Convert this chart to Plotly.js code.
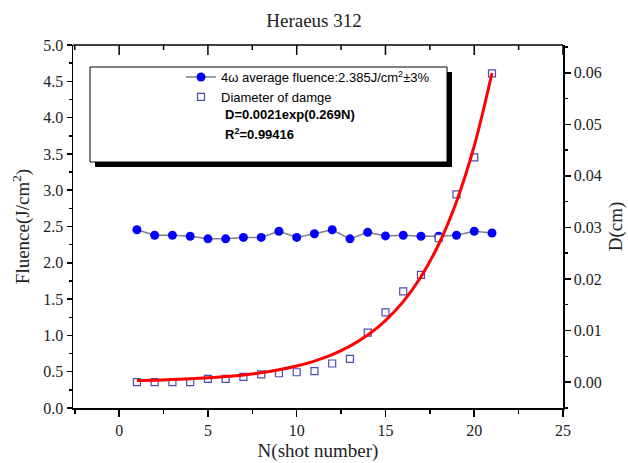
<!DOCTYPE html>
<html><head><meta charset="utf-8">
<script src="https://cdn.plot.ly/plotly-3.0.1.min.js"></script>
<style>html,body{margin:0;padding:0;background:#fff}#chart{width:628px;height:463px}</style>
</head><body><div id="chart"></div>
<script>
// ---- data ----
const shots = [1,2,3,4,5,6,7,8,9,10,11,12,13,14,15,16,17,18,19,20,21];
const fluence = [2.455,2.38,2.38,2.365,2.33,2.33,2.35,2.35,2.435,2.35,2.40,2.455,2.33,2.42,2.37,2.38,2.365,2.365,2.38,2.435,2.41];
const diameter = [0.0000,0.0000,0.0000,0.0000,0.0006,0.0006,0.0010,0.0015,0.0017,0.0019,0.0021,0.0036,0.0045,0.0096,0.0135,0.0176,0.0208,0.0279,0.0364,0.0436,0.0599];
const fitCurve = [0.00028,0.00036,0.00047,0.00062,0.00081,0.00106,0.00138,0.00181,0.00237,0.00310,0.00406,0.00532,0.00696,0.00911,0.01192,0.01560,0.02043,0.02674,0.03500,0.04581,0.05997];
const topTicks = [-2.5,0,2.5,5,7.5,10,12.5,15,17.5,20,22.5,25];
const fluenceLabel = '4ω average fluence:2.385J/cm<sup>2</sup>±3%';
const diameterLabel = 'Diameter of damge';
const fitLabel = 'D=0.0021exp(0.269N)';
const r2Label = 'R<sup>2</sup>=0.99416';
const titleText = 'Heraeus 312';
const xTitle = 'N(shot number)';
const yTitle = 'Fluence(J/cm<sup>2</sup>)';
const y2Title = 'D(cm)';

// ---- layout helpers ----
const W = 628, H = 463, M = {l:73, r:65, t:45, b:55};
const PW = W - M.l - M.r, PH = H - M.t - M.b;
const px = x => (x - M.l) / PW;
const py = y => (H - M.b - y) / PH;
const serif = 'Liberation Serif, Times New Roman, serif';
const sans = 'Liberation Sans, Arial, sans-serif';
const xRange = [-2.6, 25];
const yRange = [0, 5];

const traces = [
  {x: shots, y: fluence, name: fluenceLabel, type: 'scatter', mode: 'lines+markers',
   line: {color: '#808080', width: 1.5}, marker: {color: '#0000ff', size: 9, symbol: 'circle'},
   xaxis: 'x', yaxis: 'y'},
  {x: shots, y: diameter, name: diameterLabel, type: 'scatter', mode: 'markers',
   marker: {symbol: 'square', size: 7, color: 'rgba(255,255,255,1)', line: {color: '#4b4bb0', width: 1.2}},
   xaxis: 'x', yaxis: 'y2'},
  {x: shots, y: fitCurve, name: 'fit', type: 'scatter', mode: 'lines', showlegend: false,
   line: {color: '#ff0000', width: 3, shape: 'spline'}, xaxis: 'x', yaxis: 'y2'},
  // top frame ticks pointing inward, drawn through the x / y scales
  {x: topTicks.flatMap(v => [v, v, null]),
   y: topTicks.flatMap((v, i) => [yRange[1], yRange[1] - (i % 2 === 1 ? 10 : 5) * (yRange[1] - yRange[0]) / PH, null]),
   type: 'scatter', mode: 'lines', showlegend: false, hoverinfo: 'skip', connectgaps: false,
   line: {color: '#000', width: 1.5}, cliponaxis: false, xaxis: 'x', yaxis: 'y'}
];

const axBase = {showline: true, linecolor: '#000', linewidth: 1.5, showgrid: false, zeroline: false,
  tickcolor: '#000', tickwidth: 1.5, mirror: false, tickmode: 'linear'};

const shapes = [
  {type: 'line', xref: 'paper', yref: 'paper', x0: 0, x1: 1, y0: 1, y1: 1, line: {color: '#000', width: 1.5}, layer: 'above'},
  {type: 'rect', xref: 'paper', yref: 'paper', x0: px(95), x1: px(452), y0: py(72), y1: py(167),
   fillcolor: '#000', line: {width: 0}, layer: 'above'},
  {type: 'rect', xref: 'paper', yref: 'paper', x0: px(90), x1: px(447), y0: py(67), y1: py(162),
   fillcolor: '#fff', line: {color: '#000', width: 1}, layer: 'above'}
];

const layout = {
  width: W, height: H, margin: M, paper_bgcolor: '#fff', plot_bgcolor: '#fff',
  title: {text: titleText, font: {family: serif, size: 19, color: '#222'}, x: 0.5, xanchor: 'center', y: 0.955, yanchor: 'middle'},
  xaxis: Object.assign({}, axBase, {range: xRange, tick0: 0, dtick: 5, ticks: 'outside', ticklen: 7,
    minor: {tick0: 0, dtick: 2.5, ticks: 'outside', ticklen: 4, tickwidth: 1.5, tickcolor: '#000'},
    tickfont: {family: serif, size: 16, color: '#222'},
    title: {text: xTitle, font: {family: serif, size: 19, color: '#222'}, standoff: 6}}),
  yaxis: Object.assign({}, axBase, {range: yRange, tick0: 0, dtick: 0.5, tickformat: '.1f', ticks: 'outside', ticklen: 5,
    minor: {tick0: 0, dtick: 0.25, ticks: 'outside', ticklen: 3, tickwidth: 1.5, tickcolor: '#000'},
    tickfont: {family: serif, size: 16, color: '#222'},
    title: {text: yTitle, font: {family: serif, size: 19, color: '#222'}, standoff: 8}}),
  yaxis2: Object.assign({}, axBase, {overlaying: 'y', side: 'right', anchor: 'x', range: [-0.00504, 0.0654],
    tick0: 0, dtick: 0.01, tickformat: '.2f', ticks: 'outside', ticklen: 6,
    minor: {tick0: 0, dtick: 0.005, ticks: 'outside', ticklen: 3, tickwidth: 1.5, tickcolor: '#000'},
    tickfont: {family: serif, size: 16, color: '#222'},
    title: {text: y2Title, font: {family: serif, size: 19, color: '#222'}, standoff: 8}}),
  showlegend: true,
  legend: {x: px(181), y: py(62), xanchor: 'left', yanchor: 'top', bgcolor: 'rgba(0,0,0,0)', borderwidth: 0,
    font: {family: sans, size: 13, color: '#000'}, tracegroupgap: 0, itemwidth: 30},
  shapes: shapes,
  annotations: [
    {text: '<b>' + fitLabel + '</b>', xref: 'paper', yref: 'paper', x: px(223), y: py(115), xanchor: 'left', yanchor: 'middle',
     showarrow: false, font: {family: sans, size: 13, color: '#000'}},
    {text: '<b>' + r2Label + '</b>', xref: 'paper', yref: 'paper', x: px(223), y: py(134), xanchor: 'left', yanchor: 'middle',
     showarrow: false, font: {family: sans, size: 13, color: '#000'}}
  ]
};

Plotly.newPlot('chart', traces, layout, {displayModeBar: false, staticPlot: true});
</script>
</body></html>
